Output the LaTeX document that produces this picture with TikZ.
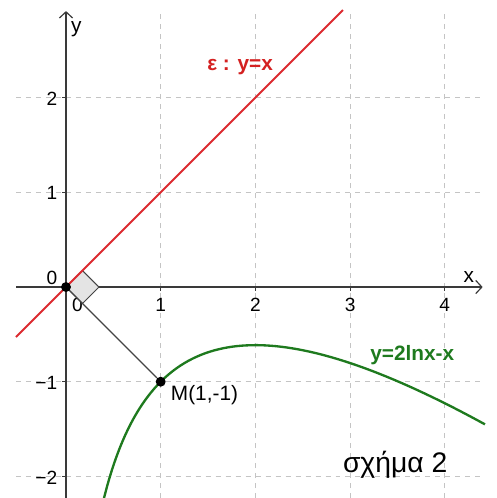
\documentclass[tikz,border=0pt]{standalone}
\usepackage{fontspec}
\setmainfont{Liberation Sans}
\usetikzlibrary{arrows.meta}
\definecolor{gridgray}{HTML}{C4C4C4}
\definecolor{axisgray}{HTML}{3A3A3A}
\definecolor{linered}{HTML}{DC2A30}
\definecolor{lblred}{HTML}{D42020}
\definecolor{curvegreen}{HTML}{1E7A1E}
\definecolor{lblgreen}{HTML}{1E7A1E}
\definecolor{markfill}{HTML}{E4E4E4}
\definecolor{segdark}{HTML}{444444}
\tikzset{
  grd/.style={draw=gridgray, line width=0.5pt, dash pattern=on 3pt off 3pt},
  axis/.style={-{Straight Barb[length=1.3mm,width=2.8mm]}, draw=axisgray, line width=0.7pt},
  tck/.style={draw=axisgray, line width=0.6pt},
  ynum/.style={font=\fontsize{11.5}{13}\selectfont, anchor=east, inner sep=0pt},
  xnum/.style={font=\fontsize{11.5}{13}\selectfont, inner sep=0pt},
  axname/.style={font=\fontsize{12.5}{14}\selectfont, inner sep=0pt},
  eline/.style={draw=linered, line width=1.1pt},
  fcurve/.style={draw=curvegreen, line width=1.4pt},
  seg/.style={draw=segdark, line width=0.8pt},
  rmark/.style={draw=segdark, fill=markfill, line width=0.6pt},
  pt/.style={circle, fill=black, inner sep=0pt, minimum size=2.1mm},
  lblr/.style={font=\fontsize{12.5}{14}\selectfont\bfseries, text=lblred, anchor=base west, inner sep=0pt},
  lblg/.style={font=\fontsize{12.5}{14}\selectfont\bfseries, text=lblgreen, anchor=base west, inner sep=0pt},
  ptlbl/.style={font=\fontsize{12.5}{14}\selectfont, anchor=base west, inner sep=0pt},
  figcap/.style={font=\fontsize{17}{19}\selectfont, anchor=base west, inner sep=0pt},
}
\begin{document}
\begin{tikzpicture}[x=2cm,y=2cm]
  \useasboundingbox[fill=white] (-0.697,-2.228) rectangle (4.541,3.031);
  \draw[grd] (-0.528,2.000) -- (4.425,2.000);
  \draw[grd] (-0.528,1.000) -- (4.425,1.000);
  \draw[grd] (-0.528,-1.000) -- (4.425,-1.000);
  \draw[grd] (-0.528,-2.000) -- (4.425,-2.000);
  \draw[grd] (1.000,-2.228) -- (1.000,2.925);
  \draw[grd] (2.000,-2.228) -- (2.000,2.925);
  \draw[grd] (3.000,-2.228) -- (3.000,2.925);
  \draw[grd] (4.000,-2.228) -- (4.000,2.925);
  \coordinate (xa) at (-0.528,0.000);
  \coordinate (xb) at (4.400,0.000);
  \coordinate (ya) at (0.000,-2.228);
  \coordinate (yb) at (0.000,2.914);
  \draw[axis] (xa) -- (xb);
  \draw[axis] (ya) -- (yb);
  \draw[tck] (1.000,0.000) -- (1.000,-0.040);
  \draw[tck] (2.000,0.000) -- (2.000,-0.040);
  \draw[tck] (3.000,0.000) -- (3.000,-0.040);
  \draw[tck] (4.000,0.000) -- (4.000,-0.040);
  \draw[tck] (0.000,2.000) -- (-0.040,2.000);
  \draw[tck] (0.000,1.000) -- (-0.040,1.000);
  \draw[tck] (0.000,-1.000) -- (-0.040,-1.000);
  \draw[tck] (0.000,-2.000) -- (-0.040,-2.000);
  \node[axname] (xname) at (4.255,0.106) {x};
  \node[axname] (yname) at (0.110,2.720) {y};
  \node[ynum] (y2) at (-0.090,1.990) {2};
  \node[ynum] (y1) at (-0.090,0.990) {1};
  \node[ynum] (y0) at (-0.090,0.095) {0};
  \node[ynum] (ym1) at (-0.090,-1.010) {−1};
  \node[ynum] (ym2) at (-0.090,-2.010) {−2};
  \node[xnum] (x0) at (0.120,-0.190) {0};
  \node[xnum] (x1) at (1.000,-0.190) {1};
  \node[xnum] (x2) at (2.000,-0.190) {2};
  \node[xnum] (x3) at (3.000,-0.190) {3};
  \node[xnum] (x4) at (4.000,-0.190) {4};
  \draw[rmark] (0.000,0.000) -- (0.174,0.174) -- (0.348,0.000) -- (0.174,-0.174) -- cycle;
  \draw[eline] (-0.528,-0.528) -- (2.925,2.925);
  \draw[fcurve] plot[domain=0.395:4.425, samples=90, smooth] (\x, {2*ln(\x)-\x});
  \node[pt] (O) at (0.000,0.000) {};
  \node[pt] (M) at (1.000,-1.000) {};
  \draw[seg] (O) -- (M);
  \node[ptlbl] (Mlbl) at (1.105,-1.198) {M(1,-1)};
  \node[lblr] (elbl) at (1.489,2.284) {ε : y=x};
  \node[lblg] (flbl) at (3.210,-0.778) {y=2lnx-x};
  \node[figcap] (fig) at (2.922,-1.961) {σχήμα 2};
\end{tikzpicture}
\end{document}
